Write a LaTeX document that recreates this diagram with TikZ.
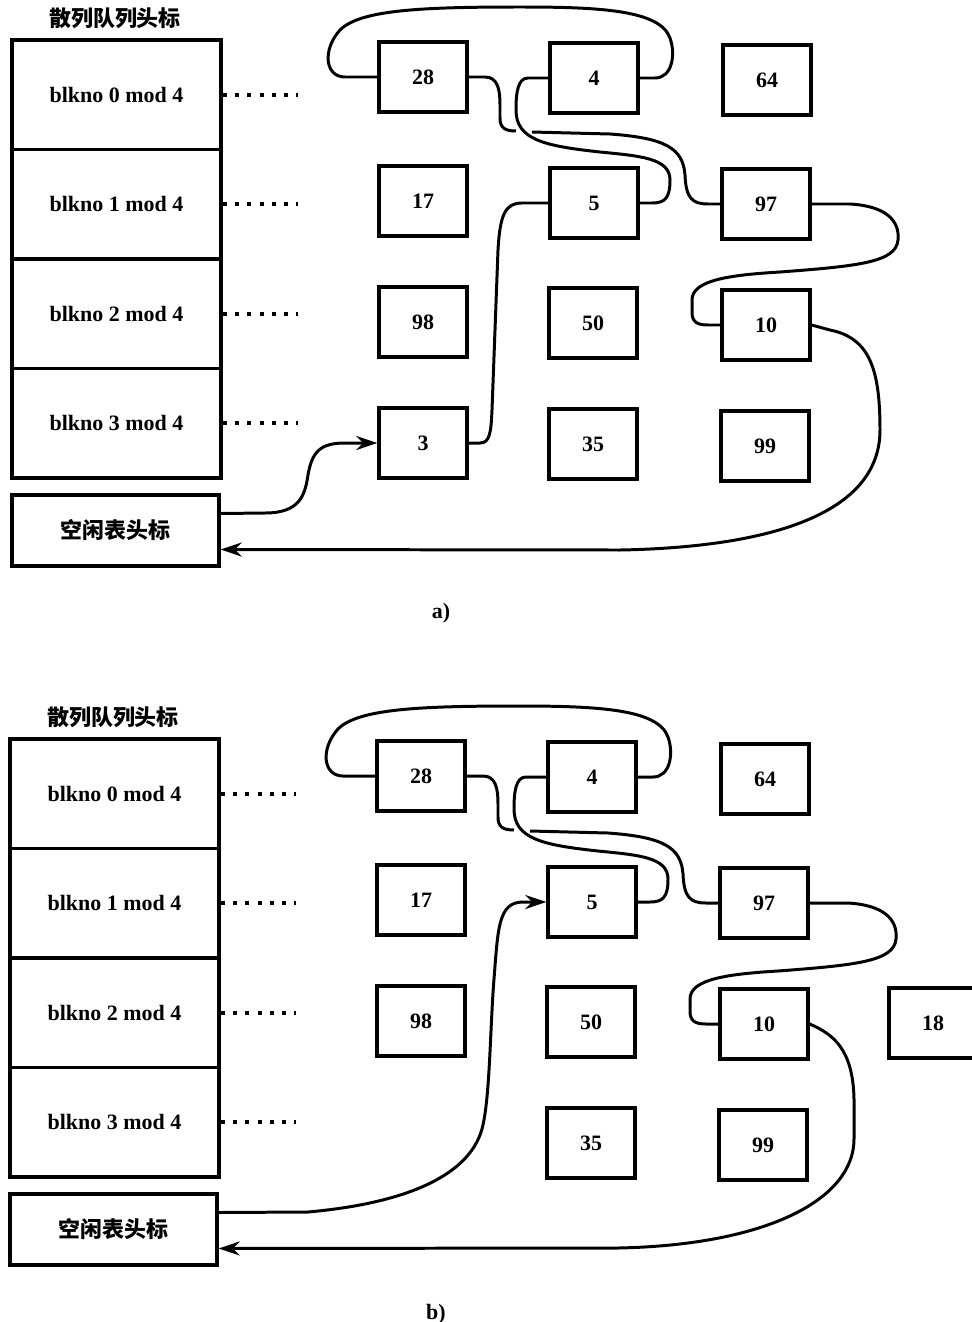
\documentclass[tikz,border=0pt]{standalone}
\usepackage{fontspec}
\setmainfont{Liberation Serif}
\newfontfamily\cjk{Noto Sans CJK SC}
\usetikzlibrary{arrows.meta}

\tikzset{
  bufbox/.style={draw, line width=1.9pt, minimum width=1.76cm, minimum height=1.4cm, inner sep=0pt},
  hashrow/.style={draw, line width=1.9pt, minimum width=4.18cm, minimum height=2.19cm, inner sep=0pt},
  headbox/.style={draw, line width=1.9pt, minimum width=4.14cm, minimum height=1.42cm, inner sep=0pt},
  cjktext/.style={font=\cjk\bfseries\fontsize{12.5}{15}\selectfont},
  link/.style={line width=1.7pt},
  tolink/.style={link, -{Stealth[length=12pt, width=8pt]}},
  dotline/.style={line width=2.3pt, dash pattern=on 2.3pt off 4.7pt},
}

\begin{document}
\begin{tikzpicture}[x=0.02cm, y=-0.02cm, font=\bfseries\fontsize{12.5}{15}\selectfont]
\useasboundingbox (0,0) rectangle (972,1322);

% the part both panels share
\foreach \p/\dx/\dy in {a/0/0, b/-2/699}{
\begin{scope}[shift={(\dx,\dy)}]
  \node[cjktext] (\p title) at (115,18) {散列队列头标};
  \foreach \i/\y in {0/94.75, 1/204.25, 2/313.75, 3/423.25}{
    \node[hashrow] (\p hash\i) at (116.5,\y) {blkno \i\ mod 4};
    \draw[dotline] (\p hash\i.east) -- ++(75,0);
  }
  \node[headbox, cjktext] (\p free) at (115.5,530.5) {空闲表头标};

  \foreach \n/\x/\y in {28/423/77, 4/594/78, 64/767/80, 17/423/201, 5/594/203, 97/766/204,
                        98/423/322, 50/593/323, 10/766/325, 35/593/444, 99/765/446}
    \node[bufbox] (\p\n) at (\x,\y) {\n};

  % hash queue links
  \draw[link] (\p4.east) -- (655,78) .. controls (672,78) and (676,55) .. (670,38)
    .. controls (660,10) and (600,7) .. (520,7) .. controls (420,7) and (360,10) .. (340,30)
    .. controls (322,50) and (325,77) .. (345,77) -- (\p28.west);
  \coordinate (\p cutl) at (516,131);
  \coordinate (\p cutr) at (532,132);
  \draw[link] (\p28.east) -- (485,77) .. controls (498,77) and (500,90) .. (500,105) -- (500,118)
    .. controls (500,128) and (505,131) .. (\p cutl);
  \draw[link] (\p cutr) -- (610,134) .. controls (665,138) and (683,148) .. (685,175)
    .. controls (686,198) and (692,204) .. (708,204) -- (\p97.west);
  \draw[link] (\p4.west) -- (528,78) .. controls (518,78) and (516,92) .. (516,110)
    .. controls (516,140) and (545,146) .. (600,152) .. controls (640,156) and (670,158) .. (670,180)
    .. controls (670,198) and (665,203) .. (652,203) -- (\p5.east);
  \draw[link] (\p97.east) -- (850,204) .. controls (885,206) and (900,220) .. (898,240)
    .. controls (896,262) and (860,266) .. (780,272) .. controls (730,275) and (692,280) .. (692,300)
    -- (692,312) .. controls (692,322) and (697,325) .. (708,325) -- (\p10.west);
\end{scope}
}

% panel a
\node[bufbox] (a3) at (423,443) {3};
\draw[link] (a3.east) -- (480,443) .. controls (490,443) and (491,432) .. (492,410) -- (498,250)
  .. controls (500,215) and (505,203) .. (522,203) -- (a5.west);
\draw[tolink] ([yshift=0.34cm]afree.east) -- (265,513) .. controls (300,513) and (305,495) .. (308,475)
  .. controls (312,452) and (320,443) .. (345,443) -- (a3.west);
\draw[tolink] (a10.east) -- (830,330) .. controls (870,338) and (880,370) .. (880,430)
  .. controls (880,510) and (780,547) .. (620,550) -- ([yshift=-0.38cm]afree.east);
\node (acaption) at (441,613) {a)};

% panel b
\begin{scope}[shift={(-2,699)}]
  \node[bufbox] (b18) at (935,324) {18};
  \draw[tolink] ([yshift=0.34cm]bfree.east) -- (310,513) .. controls (400,505) and (470,480) .. (484,430)
    .. controls (492,400) and (492,330) .. (496,280) .. controls (500,230) and (500,203) .. (525,203) -- (b5.west);
  \draw[tolink] (b10.east) .. controls (835,335) and (855,350) .. (856,400) -- (856,440)
    .. controls (856,500) and (770,546) .. (620,549) -- ([yshift=-0.38cm]bfree.east);
  \node (bcaption) at (438,615) {b)};
\end{scope}
\end{tikzpicture}
\end{document}
